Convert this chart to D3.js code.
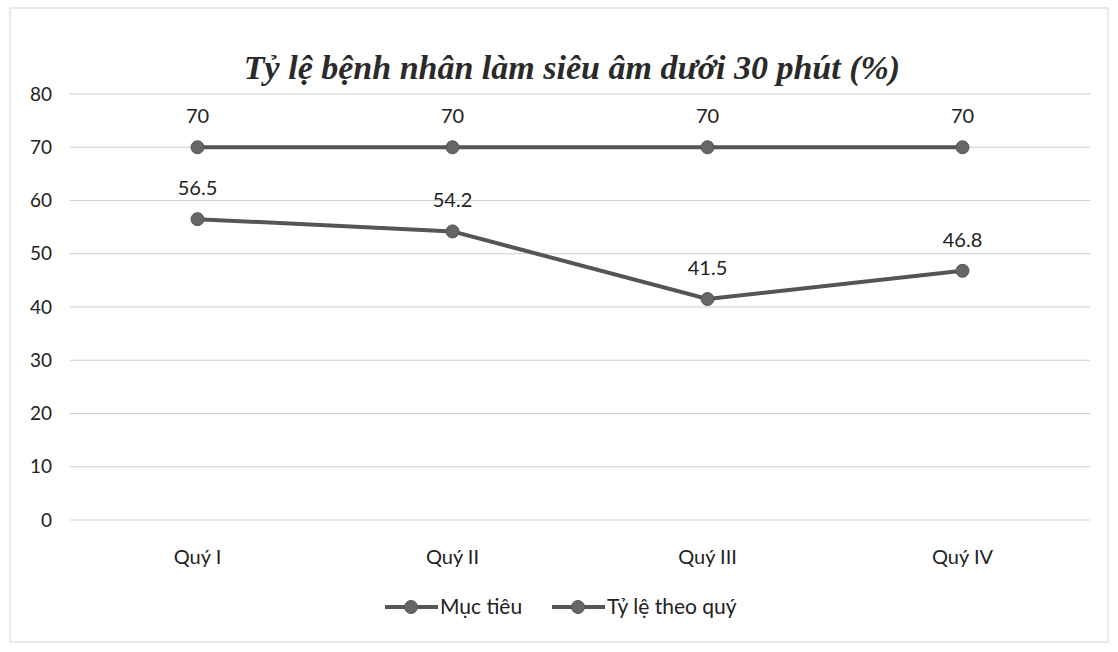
<!DOCTYPE html>
<html>
<head>
<meta charset="utf-8">
<script src="https://cdn.jsdelivr.net/npm/d3@7"></script>
<style>
  body { margin: 0; background: #fff; }
  svg text { font-family: Lato, "Open Sans", sans-serif; }
</style>
</head>
<body>
<div id="chart"></div>
<script>
// chart data
var categories = ["Quý I", "Quý II", "Quý III", "Quý IV"];
var mucTieu = [70, 70, 70, 70];
var tyLeTheoQuy = [56.5, 54.2, 41.5, 46.8];
var yTicks = [0, 10, 20, 30, 40, 50, 60, 70, 80];
var seriesNames = ["Mục tiêu", "Tỷ lệ theo quý"];

var width = 1118, height = 652;
var margin = { top: 94, right: 28, bottom: 132, left: 70 };
var plotW = width - margin.left - margin.right,
    plotH = height - margin.top - margin.bottom;

var svg = d3.select("#chart").append("svg")
    .attr("width", width)
    .attr("height", height);

// faint outer border like the scanned chart frame
svg.append("rect")
    .attr("x", 10).attr("y", 8)
    .attr("width", width - 20).attr("height", height - 18)
    .attr("fill", "none")
    .attr("stroke", "#d4d4d4");

svg.append("text")
    .attr("x", 572)
    .attr("y", 79)
    .attr("text-anchor", "middle")
    .style("font-family", "'Liberation Serif', 'Times New Roman', serif")
    .style("font-weight", "bold")
    .style("font-style", "italic")
    .style("font-size", "34px")
    .attr("fill", "#2a2a2a")
    .text("Tỷ lệ bệnh nhân làm siêu âm dưới 30 phút (%)");

var g = svg.append("g")
    .attr("transform", "translate(" + margin.left + "," + margin.top + ")");

var x = d3.scaleBand().domain(categories).range([0, plotW]);
var y = d3.scaleLinear().domain([0, 80]).range([plotH, 0]);

// gridlines
g.selectAll(".grid")
    .data(yTicks)
    .enter().append("line")
    .attr("class", "grid")
    .attr("x1", 0).attr("x2", plotW)
    .attr("y1", function(d) { return y(d); })
    .attr("y2", function(d) { return y(d); })
    .attr("stroke", "#cfcfcf")
    .attr("stroke-width", 1);

// y axis labels
var yAxis = g.append("g")
    .call(d3.axisLeft(y).tickValues(yTicks).tickSize(0).tickPadding(18));
yAxis.select(".domain").remove();
yAxis.selectAll("text")
    .style("font-size", "19px")
    .attr("fill", "#222");

// x axis labels
var xAxis = g.append("g")
    .attr("transform", "translate(0," + plotH + ")")
    .call(d3.axisBottom(x).tickSize(0).tickPadding(30));
xAxis.select(".domain").remove();
xAxis.selectAll("text")
    .style("font-size", "20px")
    .attr("fill", "#222");

var line = d3.line()
    .x(function(d, i) { return x(categories[i]) + x.bandwidth() / 2; })
    .y(function(d) { return y(d); });

function drawSeries(values, color) {
  g.append("path")
      .datum(values)
      .attr("fill", "none")
      .attr("stroke", color)
      .attr("stroke-width", 4)
      .attr("d", line);

  g.selectAll(null)
      .data(values)
      .enter().append("circle")
      .attr("cx", function(d, i) { return x(categories[i]) + x.bandwidth() / 2; })
      .attr("cy", function(d) { return y(d); })
      .attr("r", 6.5)
      .attr("fill", "#666")
      .attr("stroke", "#555")
      .attr("stroke-width", 1);

  g.selectAll(null)
      .data(values)
      .enter().append("text")
      .attr("x", function(d, i) { return x(categories[i]) + x.bandwidth() / 2; })
      .attr("y", function(d) { return y(d) - 24; })
      .attr("text-anchor", "middle")
      .style("font-size", "20px")
      .attr("fill", "#222")
      .text(function(d) { return d; });
}

drawSeries(mucTieu, "#555");
drawSeries(tyLeTheoQuy, "#555");

// legend
var legend = svg.append("g").attr("transform", "translate(0,607)");
var legendX = [385, 552];
seriesNames.forEach(function(name, i) {
  var lg = legend.append("g").attr("transform", "translate(" + legendX[i] + ",0)");
  lg.append("line")
      .attr("x1", 0).attr("x2", 53)
      .attr("y1", 0).attr("y2", 0)
      .attr("stroke", "#555")
      .attr("stroke-width", 4);
  lg.append("circle")
      .attr("cx", 26).attr("cy", 0).attr("r", 6.5)
      .attr("fill", "#666").attr("stroke", "#555");
  lg.append("text")
      .attr("x", 55).attr("y", 7)
      .style("font-size", "21px")
      .attr("fill", "#222")
      .text(name);
});
</script>
</body>
</html>
